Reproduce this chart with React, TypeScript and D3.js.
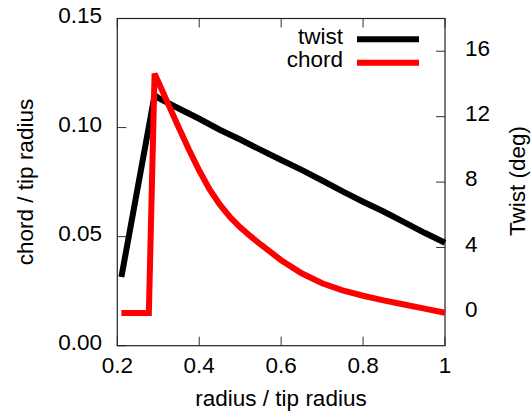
import React from "react";
import * as d3 from "d3";

const radius = [0.21, 0.291, 0.30, 0.35, 0.40, 0.45, 0.50, 0.55, 0.60, 0.65, 0.70, 0.75, 0.80, 0.85, 0.90, 0.95, 1.0];
const twist = [2.2, 13.3, 13.15, 12.5, 11.87, 11.2, 10.6, 9.97, 9.35, 8.75, 8.1, 7.43, 6.8, 6.2, 5.55, 4.9, 4.29];

const chordRadius = [0.21, 0.277, 0.291, 0.30, 0.325, 0.35, 0.375, 0.40, 0.425, 0.45, 0.475, 0.50, 0.525, 0.55, 0.60, 0.65, 0.70, 0.75, 0.80, 0.85, 0.90, 0.95, 1.0];
const chord = [0.015, 0.015, 0.1247, 0.121, 0.1105, 0.1, 0.0898, 0.0803, 0.0718, 0.0648, 0.059, 0.0543, 0.0502, 0.0464, 0.0392, 0.0332, 0.0286, 0.0254, 0.0229, 0.0208, 0.0189, 0.017, 0.0151];

const xTicks = [0.2, 0.4, 0.6, 0.8, 1.0];
const xTickLabels = ["0.2", "0.4", "0.6", "0.8", "1"];
const yLeftTicks = [0, 0.05, 0.1, 0.15];
const yLeftTickLabels = ["0.00", "0.05", "0.10", "0.15"];
const yRightTicks = [0, 4, 8, 12, 16];
const yRightTickLabels = ["0", "4", "8", "12", "16"];

const W = 531, H = 418;
const L = 117.3, R = 445, T = 18.5, B = 345.7;
const FONT = "'Liberation Sans', Arial, Helvetica, sans-serif";
const FS = 22.5;

export default function App() {
  const x = d3.scaleLinear().domain([0.2, 1.0]).range([L, R]);
  const yL = d3.scaleLinear().domain([0, 0.15]).range([B, T]);
  const yR = d3.scaleLinear().domain([-2, 18]).range([B, T]);

  const twistLine = d3.line<number>().x((_, i) => x(radius[i])).y((d) => yR(d))(twist) || "";
  const chordLine = d3.line<number>().x((_, i) => x(chordRadius[i])).y((d) => yL(d))(chord) || "";

  const tk = 9;
  const tickColor = "#333";

  return (
    <svg width={W} height={H} style={{ position: "absolute", left: 0, top: 0, background: "#fff" }} fontFamily={FONT}>
      <rect x={0} y={0} width={W} height={H} fill="#fff" />
      {xTicks.map((t, i) => (
        <g key={"xt" + i}>
          <line x1={x(t)} x2={x(t)} y1={B} y2={B - tk} stroke={tickColor} strokeWidth={1} />
          <line x1={x(t)} x2={x(t)} y1={T} y2={T + tk} stroke={tickColor} strokeWidth={1} />
          <text x={x(t)} y={365} dy="0.35em" textAnchor="middle" fontSize={FS} fill="#000">{xTickLabels[i]}</text>
        </g>
      ))}
      {yLeftTicks.map((t, i) => (
        <g key={"yl" + i}>
          <line x1={L} x2={L + tk} y1={yL(t)} y2={yL(t)} stroke={tickColor} strokeWidth={1} />
          <text x={102} y={yL(t) - 3.5} dy="0.35em" textAnchor="end" fontSize={FS} fill="#000">{yLeftTickLabels[i]}</text>
        </g>
      ))}
      {yRightTicks.map((t, i) => (
        <g key={"yr" + i}>
          <line x1={R} x2={R - tk} y1={yR(t)} y2={yR(t)} stroke={tickColor} strokeWidth={1} />
          <text x={465} y={yR(t) - 3.5} dy="0.35em" textAnchor="start" fontSize={FS} fill="#000">{yRightTickLabels[i]}</text>
        </g>
      ))}
      <rect x={L} y={T} width={R - L} height={B - T} fill="none" stroke="#222" strokeWidth={1.2} />
      <path d={twistLine} fill="none" stroke="#000" strokeWidth={6} strokeLinejoin="miter" />
      <path d={chordLine} fill="none" stroke="#ff0000" strokeWidth={6} strokeLinejoin="miter" />
      <text x={343} y={36} dy="0.35em" textAnchor="end" fontSize={FS} fill="#000">twist</text>
      <line x1={357} x2={419} y1={39.3} y2={39.3} stroke="#000" strokeWidth={6} />
      <text x={343} y={59} dy="0.35em" textAnchor="end" fontSize={FS} fill="#000">chord</text>
      <line x1={357} x2={419} y1={62.7} y2={62.7} stroke="#ff0000" strokeWidth={6} />
      <text x={281} y={406} textAnchor="middle" fontSize={FS} fill="#000">radius / tip radius</text>
      <text transform={`translate(33,182) rotate(-90)`} textAnchor="middle" fontSize={FS} fill="#000">chord / tip radius</text>
      <text transform={`translate(525,181) rotate(-90)`} textAnchor="middle" fontSize={FS} fill="#000">Twist (deg)</text>
    </svg>
  );
}
